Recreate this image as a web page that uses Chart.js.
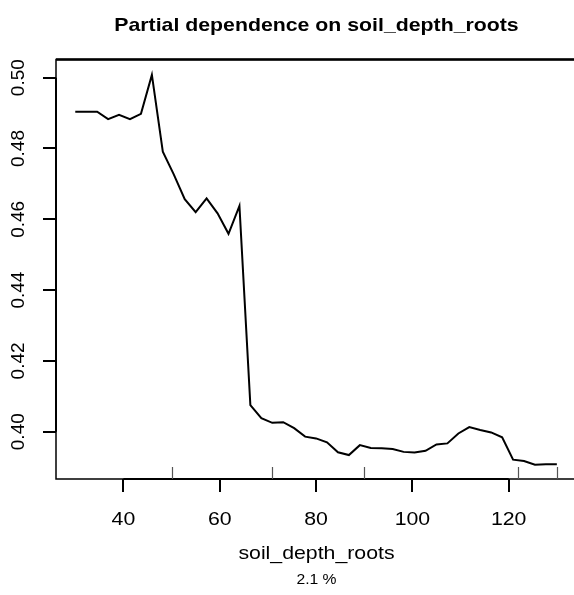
<!DOCTYPE html>
<html>
<head>
<meta charset="utf-8">
<title>Partial dependence on soil_depth_roots</title>
<script src="https://cdn.jsdelivr.net/npm/chart.js@4.4.1/dist/chart.umd.min.js"></script>
<style>
  html, body { margin: 0; padding: 0; background: #fff; overflow: hidden; }
  #wrap { width: 574px; height: 595px; position: relative; }
</style>
</head>
<body>
<div id="wrap"><canvas id="pdp"></canvas></div>
<script>
// grid of soil_depth_roots values used for the partial dependence curve
const depth = [30, 32.27, 34.55, 36.82, 39.09, 41.36, 43.64, 45.91, 48.18, 50.45,
  52.73, 55, 57.27, 59.55, 61.82, 64.09, 66.36, 68.64, 70.91, 73.18,
  75.45, 77.73, 80, 82.27, 84.55, 86.82, 89.09, 91.36, 93.64, 95.91,
  98.18, 100.45, 102.73, 105, 107.27, 109.55, 111.82, 114.09, 116.36, 118.64,
  120.91, 123.18, 125.45, 127.73, 130];

// partial dependence values
const dependence = [0.4904, 0.4904, 0.4904, 0.4883, 0.4895, 0.4883, 0.4898, 0.5008, 0.4791, 0.4727,
  0.4657, 0.4620, 0.4659, 0.4617, 0.4559, 0.4638, 0.4075, 0.4038, 0.4025, 0.4027,
  0.4010, 0.3986, 0.3981, 0.3970, 0.3942, 0.3934, 0.3962, 0.3954, 0.3953, 0.3951,
  0.3943, 0.3941, 0.3946, 0.3964, 0.3967, 0.3995, 0.4013, 0.4005, 0.3998, 0.3984,
  0.3921, 0.3917, 0.3907, 0.3908, 0.3908];

// deciles of the predictor (rug marks)
const rugDeciles = [50, 70.8, 90, 122, 130];

const xTicks = [40, 60, 80, 100, 120];
const yTicks = [0.40, 0.42, 0.44, 0.46, 0.48, 0.50];

const TITLE = 'Partial dependence on soil_depth_roots';
const X_TITLE = 'soil_depth_roots';
const SUBTITLE = '2.1 %';

const FONT = '"Liberation Sans", Arial, Helvetica, sans-serif';
const STRETCH = 1.12; // the reference text is a bit wider than it is tall

function wideText(ctx, text, x, y) {
  ctx.save();
  ctx.translate(x, y);
  ctx.scale(STRETCH, 1);
  ctx.fillText(text, 0, 0);
  ctx.restore();
}

// draws the R-style box, rug and all text using the chart's own scales
const baseGraphics = {
  id: 'baseGraphics',
  afterDraw(chart) {
    const { ctx, chartArea: area, scales: { x, y } } = chart;
    ctx.save();
    ctx.strokeStyle = '#000';
    ctx.fillStyle = '#000';

    // plot box (right edge falls outside the canvas)
    ctx.lineWidth = 1.5;
    ctx.beginPath();
    ctx.moveTo(chart.width + 5, area.top);
    ctx.lineTo(area.left, area.top);
    ctx.lineTo(area.left, area.bottom);
    ctx.lineTo(chart.width + 5, area.bottom);
    ctx.stroke();
    ctx.lineWidth = 2.5;
    ctx.beginPath();
    ctx.moveTo(area.left, area.top);
    ctx.lineTo(chart.width + 5, area.top);
    ctx.stroke();

    // axis lines over the tick range
    ctx.lineWidth = 2;
    ctx.beginPath();
    ctx.moveTo(x.getPixelForValue(xTicks[0]), area.bottom);
    ctx.lineTo(x.getPixelForValue(xTicks[xTicks.length - 1]), area.bottom);
    ctx.moveTo(area.left, y.getPixelForValue(yTicks[0]));
    ctx.lineTo(area.left, y.getPixelForValue(yTicks[yTicks.length - 1]));
    ctx.stroke();

    // rug
    ctx.strokeStyle = '#555';
    ctx.lineWidth = 1.2;
    ctx.beginPath();
    rugDeciles.forEach(v => {
      const px = Math.round(x.getPixelForValue(v)) + 0.5;
      ctx.moveTo(px, area.bottom);
      ctx.lineTo(px, area.bottom - 12);
    });
    ctx.stroke();

    const mid = (area.left + 577) / 2;

    // title
    ctx.textAlign = 'center';
    ctx.textBaseline = 'middle';
    ctx.font = 'bold 19px ' + FONT;
    wideText(ctx, TITLE, mid, 26);

    // x tick labels
    ctx.font = '19px ' + FONT;
    xTicks.forEach(v => wideText(ctx, String(v), x.getPixelForValue(v), 520));

    // axis title and subtitle
    wideText(ctx, X_TITLE, mid, 554);
    ctx.font = '14px ' + FONT;
    wideText(ctx, SUBTITLE, mid, 580);

    // y tick labels, rotated as in R
    ctx.font = '19px ' + FONT;
    yTicks.forEach(v => {
      ctx.save();
      ctx.translate(18.5, y.getPixelForValue(v));
      ctx.rotate(-Math.PI / 2);
      ctx.fillText(v.toFixed(2), 0, 0);
      ctx.restore();
    });
    ctx.restore();
  }
};

new Chart(document.getElementById('pdp'), {
  type: 'line',
  data: {
    datasets: [{
      data: depth.map((d, i) => ({ x: d, y: dependence[i] })),
      borderColor: '#000',
      borderWidth: 2,
      pointRadius: 0,
      tension: 0,
      fill: false
    }]
  },
  options: {
    responsive: true,
    maintainAspectRatio: false,
    animation: false,
    layout: { padding: { top: 59.5, left: 0, right: 0, bottom: 0 } },
    plugins: {
      legend: { display: false },
      tooltip: { enabled: false },
      title: { display: false }
    },
    scales: {
      x: {
        type: 'linear',
        min: 26,
        max: 133.56,
        afterFit: s => { s.height = 116; },
        afterBuildTicks: s => { s.ticks = xTicks.map(v => ({ value: v })); },
        ticks: { display: false },
        border: { display: false },
        grid: { drawOnChartArea: false, drawTicks: true, tickLength: 13, color: '#000', lineWidth: 2 }
      },
      y: {
        type: 'linear',
        min: 0.38664,
        max: 0.50514,
        afterFit: s => { s.width = 56; },
        afterBuildTicks: s => { s.ticks = yTicks.map(v => ({ value: v })); },
        ticks: { display: false },
        border: { display: false },
        grid: { drawOnChartArea: false, drawTicks: true, tickLength: 13, color: '#000', lineWidth: 2 }
      }
    }
  },
  plugins: [baseGraphics]
});
</script>
</body>
</html>
